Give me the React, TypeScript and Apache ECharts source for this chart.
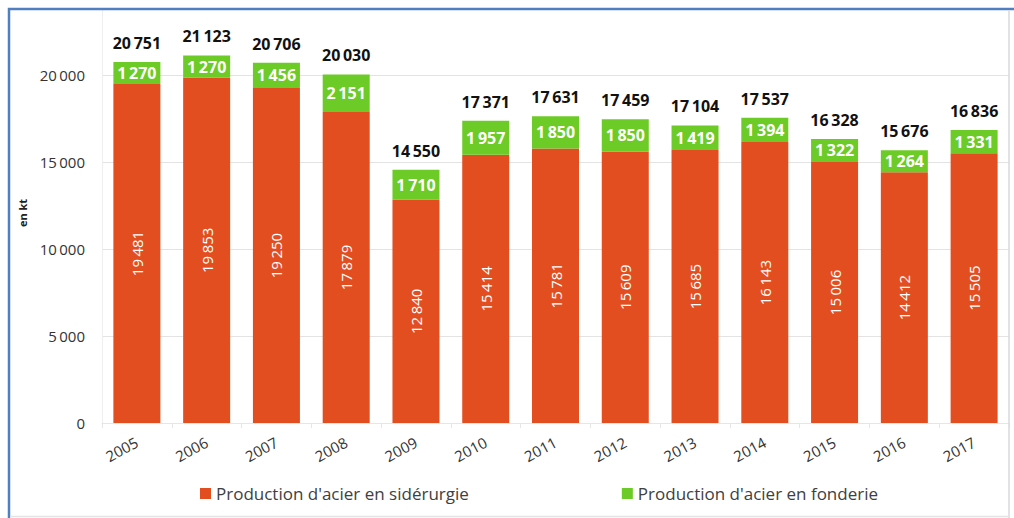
import React, { useEffect, useRef } from "react";
import * as echarts from "echarts";

const years = ["2005", "2006", "2007", "2008", "2009", "2010", "2011", "2012", "2013", "2014", "2015", "2016", "2017"];
const siderurgie = [19481, 19853, 19250, 17879, 12840, 15414, 15781, 15609, 15685, 16143, 15006, 14412, 15505];
const fonderie = [1270, 1270, 1456, 2151, 1710, 1957, 1850, 1850, 1419, 1394, 1322, 1264, 1331];
const totals = [20751, 21123, 20706, 20030, 14550, 17371, 17631, 17459, 17104, 17537, 16328, 15676, 16836];
const yTicks = [0, 5000, 10000, 15000, 20000];

const ORANGE = "#E24E1F";
const GREEN = "#6CCB26";
const FONT = "'Open Sans', 'Noto Sans', sans-serif";

const fmt = (v: number) => {
  const s = String(Math.round(v));
  return s.replace(/\B(?=(\d{3})+(?!\d))/g, "\u2009");
};

export default function App() {
  const ref = useRef<HTMLDivElement>(null);
  useEffect(() => {
    if (!ref.current) return;
    const chart = echarts.init(ref.current, undefined, { renderer: "svg" });
    chart.setOption({
      animation: false,
      backgroundColor: "#ffffff",
      textStyle: { fontFamily: FONT },
      graphic: [
        {
          type: "rect",
          z: 100,
          shape: { x: 0, y: 0, width: 1014, height: 8 },
          style: { fill: "#ffffff" },
          silent: true,
        },
        {
          type: "rect",
          z: 101,
          shape: { x: 9, y: 9, width: 1100, height: 600 },
          style: { fill: "none", stroke: "#4F7FC0", lineWidth: 2.5 },
          silent: true,
        },
        {
          type: "line",
          z: 101,
          shape: { x1: 1009, y1: 10, x2: 1009, y2: 518 },
          style: { stroke: "#D9D9D9", lineWidth: 1.5 },
          silent: true,
        },
        {
          type: "line",
          z: 101,
          shape: { x1: 10, y1: 516.5, x2: 1009, y2: 516.5 },
          style: { stroke: "#E3E3E3", lineWidth: 1.5 },
          silent: true,
        },
        {
          type: "text",
          x: 22,
          y: 213,
          rotation: Math.PI / 2,
          style: {
            text: "en kt",
            fontSize: 11,
            fontWeight: "bold",
            fill: "#222",
            fontFamily: FONT,
            align: "center",
            verticalAlign: "middle",
          },
        },
      ],
      legend: {
        data: [
          { name: "Production d'acier en sidérurgie" },
          { name: "Production d'acier en fonderie" },
        ],
        bottom: 11,
        left: 195,
        itemGap: 153,
        itemWidth: 11,
        itemHeight: 11,
        icon: "rect",
        textStyle: { fontSize: 17, color: "#404040", fontFamily: FONT },
      },
      grid: { left: 102, right: 5, top: 0, bottom: 95, containLabel: false },
      xAxis: {
        type: "category",
        data: years,
        axisLine: { lineStyle: { color: "#E6E6E6" } },
        axisTick: { show: true, alignWithLabel: false, lineStyle: { color: "#E6E6E6" } },
        axisLabel: {
          rotate: 28,
          fontSize: 15,
          color: "#333",
          margin: 18,
          fontFamily: FONT,
        },
      },
      yAxis: {
        type: "value",
        min: 0,
        max: 24310,
        interval: 5000,
        axisLine: { show: true, lineStyle: { color: "#EEEEEE" } },
        axisTick: { show: false },
        axisLabel: {
          fontSize: 15,
          color: "#333",
          margin: 17,
          fontFamily: FONT,
          formatter: (v: number) => (yTicks.includes(v) ? fmt(v) : ""),
        },
        splitLine: { lineStyle: { color: "#E3E3E3", width: 1 } },
      },
      series: [
        {
          name: "Production d'acier en sidérurgie",
          type: "bar",
          stack: "total",
          barWidth: 47,
          data: siderurgie,
          itemStyle: { color: ORANGE },
          label: {
            show: true,
            position: "inside",
            rotate: 90,
            color: "#ffffff",
            fontSize: 15,
            fontFamily: FONT,
            formatter: (p: any) => fmt(p.value),
          },
        },
        {
          name: "Production d'acier en fonderie",
          type: "bar",
          stack: "total",
          barWidth: 47,
          data: fonderie,
          itemStyle: { color: GREEN },
          label: {
            show: true,
            position: "inside",
            color: "#ffffff",
            fontSize: 16,
            fontWeight: "bold",
            fontFamily: FONT,
            formatter: (p: any) => fmt(p.value),
          },
        },
        {
          name: "total",
          type: "bar",
          stack: "total",
          barWidth: 47,
          data: totals.map(() => 0),
          itemStyle: { color: "transparent" },
          label: {
            show: true,
            position: "top",
            distance: 11,
            color: "#111",
            fontSize: 16,
            fontWeight: "bold",
            fontFamily: FONT,
            formatter: (p: any) => fmt(totals[p.dataIndex]),
          },
        },
      ],
    });
    return () => chart.dispose();
  }, []);
  return <div ref={ref} style={{ width: 1014, height: 518, position: "absolute", left: 0, top: 0 }} />;
}
